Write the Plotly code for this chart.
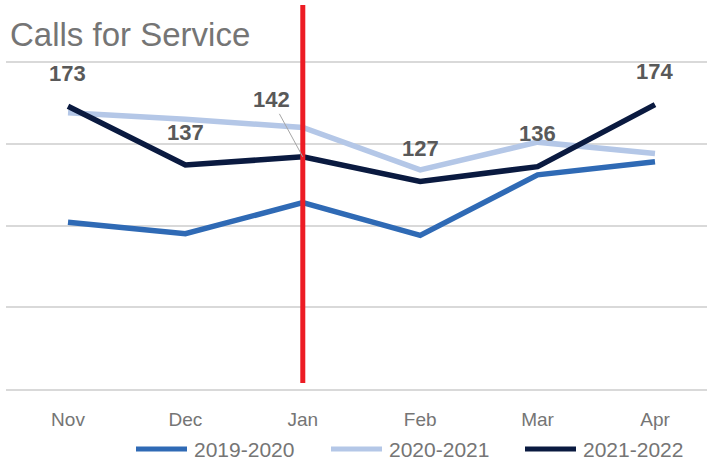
import plotly.graph_objects as go

months = ["Nov", "Dec", "Jan", "Feb", "Mar", "Apr"]
s2019 = [102, 95, 114, 94, 131, 139]
s2020 = [169, 165, 160, 134, 151, 144]
s2021 = [173, 137, 142, 127, 136, 174]
series_names = ["2019-2020", "2020-2021", "2021-2022"]
colors = ["#2F6AB5", "#B4C7E7", "#0A1A40"]

W, H = 707, 462
ML, MR, MT, MB = 6, 0, 5, 73
PW, PH = W - ML - MR, H - MT - MB

fig = go.Figure()
for name, vals, col in zip(series_names, [s2019, s2020, s2021], colors):
    fig.add_trace(go.Scatter(x=months, y=vals, mode="lines", name=name,
                             line=dict(color=col, width=5.5), showlegend=False,
                             hoverinfo="skip"))

lab_font = dict(family="Liberation Sans", size=22, color="#595959", weight="bold")
for m, v in zip(months, s2021):
    if m == "Jan":
        fig.add_annotation(x=m, y=v, text=str(v), showarrow=True, arrowhead=0,
                           arrowwidth=1, arrowcolor="#A6A6A6", ax=-31, ay=-57,
                           font=lab_font)
    else:
        fig.add_annotation(x=m, y=v, text=str(v), showarrow=False, yshift=33,
                           font=lab_font)

fig.add_shape(type="line", xref="x", yref="paper", x0="Jan", x1="Jan", y0=0.0156, y1=1,
              line=dict(color="#ED1C24", width=5))

fig.add_annotation(xref="paper", yref="paper", x=0, y=1, xanchor="left", yanchor="top",
                   xshift=2, yshift=-9, text="Calls for Service", showarrow=False,
                   font=dict(family="Liberation Sans", size=33, color="#757575"))

# custom legend (line samples + labels) below the axis
def px_x(px):
    return (px - ML) / PW

def px_y(py):
    return (H - MB - py) / PH

leg_starts = [134, 329, 523]
leg_y = 449
for name, col, x0 in zip(series_names, colors, leg_starts):
    fig.add_shape(type="line", xref="paper", yref="paper",
                  x0=px_x(x0 + 2), x1=px_x(x0 + 53), y0=px_y(leg_y), y1=px_y(leg_y),
                  line=dict(color=col, width=5))
    fig.add_annotation(xref="paper", yref="paper", x=px_x(x0 + 58), y=px_y(leg_y),
                       xanchor="left", yanchor="middle", text=name, showarrow=False,
                       font=dict(family="Liberation Sans", size=21, color="#757575"))

fig.update_layout(
    width=W, height=H,
    margin=dict(l=ML, r=MR, t=MT, b=MB, autoexpand=False),
    plot_bgcolor="white", paper_bgcolor="white",
    showlegend=False,
    xaxis=dict(range=[-0.528, 5.443], showgrid=False, zeroline=False,
               showline=True, linecolor="#D9D9D9", linewidth=2,
               ticks="outside", ticklen=12, tickcolor="rgba(0,0,0,0)",
               tickfont=dict(family="Liberation Sans", size=19, color="#757575")),
    yaxis=dict(range=[0, 234.9], dtick=50, showgrid=True, gridcolor="#D9D9D9", gridwidth=2,
               zeroline=False, showticklabels=False, showline=False),
)
fig.write_html("out.html", config={"displayModeBar": False},
               post_script="document.body.style.margin='0';document.body.style.overflow='hidden';")
